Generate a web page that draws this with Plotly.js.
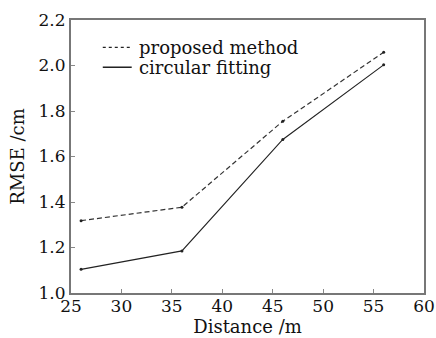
<!DOCTYPE html>
<html><head><meta charset="utf-8">
<script src="https://cdn.plot.ly/plotly-3.0.1.min.js"></script>
<style>html,body{margin:0;padding:0;background:#fff}</style>
</head><body><div id="chart" style="width:436px;height:338px"></div>
<script>
var distance = [26, 36, 46, 56];
var proposedMethod = [1.318, 1.377, 1.755, 2.058];
var circularFitting = [1.104, 1.185, 1.675, 2.003];
var seriesNames = ['proposed method', 'circular fitting'];
var xTicks = [25, 30, 35, 40, 45, 50, 55, 60];
var yTicks = [1.0, 1.2, 1.4, 1.6, 1.8, 2.0, 2.2];

var font = "DejaVu Serif, Liberation Serif, serif";
var dashStyle = '5px,3px';
var traces = [
  {x: distance, y: proposedMethod, name: seriesNames[0], type: 'scatter', mode: 'lines+markers',
   line: {color: '#333', width: 1.2, dash: dashStyle}, marker: {color: '#222', size: 3}, showlegend: false},
  {x: distance, y: circularFitting, name: seriesNames[1], type: 'scatter', mode: 'lines+markers',
   line: {color: '#222', width: 1.1}, marker: {color: '#222', size: 3}, showlegend: false}
];
// manual legend (paper coordinates)
var legY = [0.90, 0.827];
var shapes = [
  {type: 'line', xref: 'paper', yref: 'paper', x0: 0.09, x1: 0.172, y0: legY[0], y1: legY[0],
   line: {color: '#222', width: 1.3, dash: 'dot'}},
  {type: 'line', xref: 'paper', yref: 'paper', x0: 0.09, x1: 0.172, y0: legY[1], y1: legY[1],
   line: {color: '#222', width: 1.5}}
];
var annotations = seriesNames.map(function(n, i){
  return {text: n, xref: 'paper', yref: 'paper', x: 0.186, y: legY[i], xanchor: 'left', yanchor: 'middle',
          showarrow: false, font: {family: font, size: 18, color: '#111'}};
});
var layout = {
  width: 436, height: 338,
  margin: {l: 71, r: 12, t: 20, b: 45},
  paper_bgcolor: '#fff', plot_bgcolor: '#fff',
  font: {family: font, color: '#111', size: 17},
  showlegend: false,
  shapes: shapes, annotations: annotations,
  xaxis: {range: [25, 60], tickvals: xTicks, ticktext: xTicks.map(String),
          ticks: 'inside', ticklen: 4, tickcolor: '#888', showgrid: false, zeroline: false,
          showline: true, linecolor: '#777', linewidth: 2, mirror: true, ticklabelstandoff: -3,
          tickfont: {family: font, size: 17},
          title: {text: 'Distance /m', font: {family: font, size: 18}, standoff: 0}},
  yaxis: {range: [1.0, 2.2], tickvals: yTicks, ticktext: yTicks.map(function(v){return v.toFixed(1);}),
          ticks: 'inside', ticklen: 4, tickcolor: '#888', showgrid: false, zeroline: false,
          showline: true, linecolor: '#777', linewidth: 2, mirror: true,
          tickfont: {family: font, size: 17},
          title: {text: 'RMSE /cm', font: {family: font, size: 18}, standoff: 9}}
};
Plotly.newPlot('chart', traces, layout, {staticPlot: true, displayModeBar: false});
</script></body></html>
